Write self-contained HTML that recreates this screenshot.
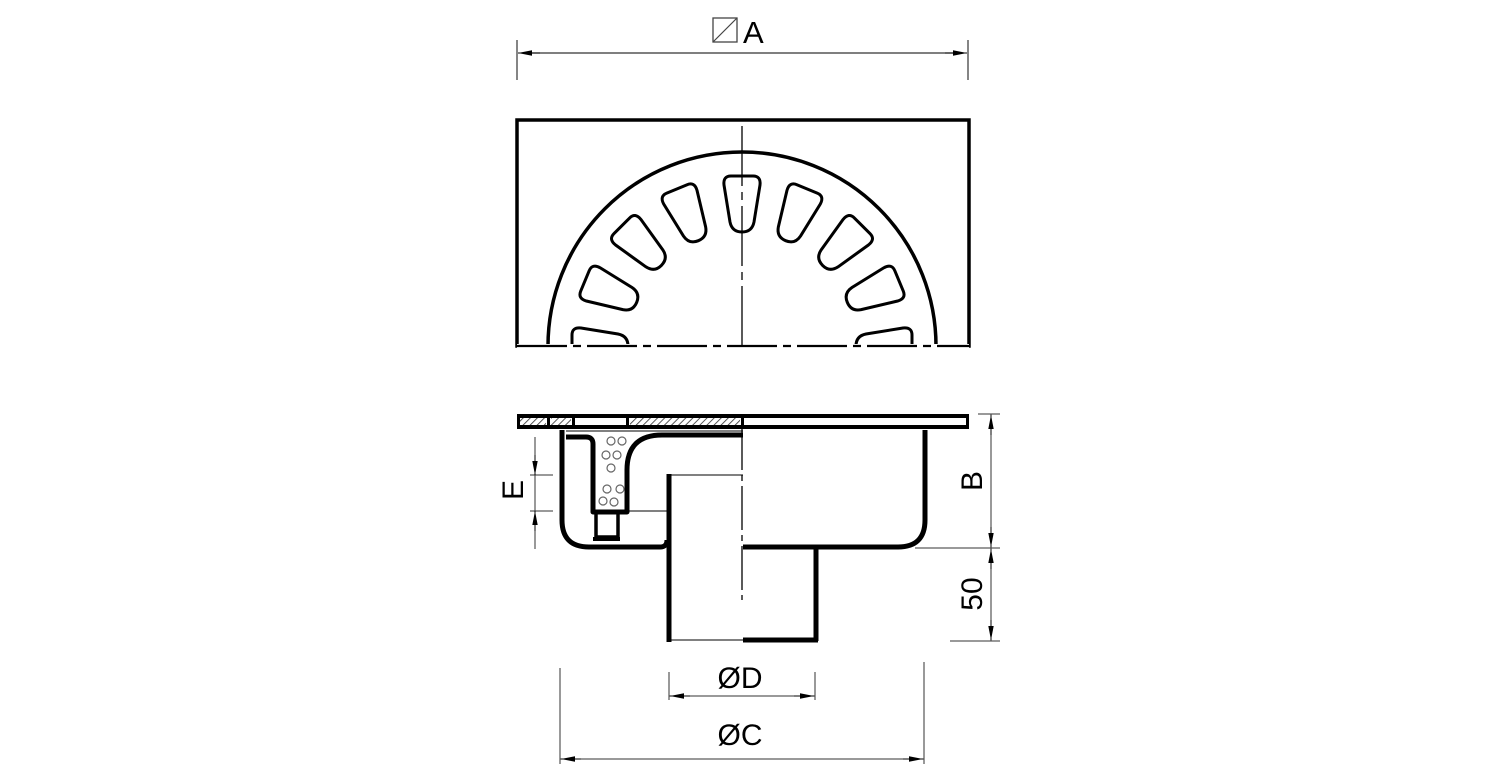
<!DOCTYPE html>
<html><head><meta charset="utf-8"><style>html,body{margin:0;padding:0;background:#fff}svg{display:block}</style></head>
<body>
<svg width="1500" height="781" viewBox="0 0 1500 781" xmlns="http://www.w3.org/2000/svg" font-family="Liberation Sans, sans-serif">
<defs>
<marker id="ar" viewBox="0 0 14 6" refX="14" refY="3" markerWidth="14" markerHeight="6" orient="auto" markerUnits="userSpaceOnUse"><path d="M0,0.3 L14,3 L0,5.7 Z" fill="#000"/></marker>
<pattern id="hat" width="5" height="5" patternUnits="userSpaceOnUse" patternTransform="rotate(45)"><line x1="0" y1="0" x2="0" y2="5" stroke="#444" stroke-width="1.8"/></pattern>
<clipPath id="top"><rect x="515" y="118" width="456" height="228"/></clipPath>
<path id="slot" d="M-11,-170 L11,-170 Q19,-170 18,-161 L12,-124 Q10,-114 0,-114 Q-10,-114 -12,-124 L-18,-161 Q-19,-170 -11,-170 Z"/>
</defs>

<g stroke="#333" stroke-width="1.2" fill="none">
<line x1="517" y1="40" x2="517" y2="80"/><line x1="968" y1="40" x2="968" y2="80"/>
<line x1="530" y1="53" x2="955" y2="53"/>
</g>
<line x1="540" y1="53" x2="518" y2="53" stroke="#000" stroke-width="1" marker-end="url(#ar)"/>
<line x1="945" y1="53" x2="967" y2="53" stroke="#000" stroke-width="1" marker-end="url(#ar)"/>
<rect x="713" y="18" width="24" height="24" fill="none" stroke="#444" stroke-width="1.3"/>
<line x1="713" y1="42" x2="737" y2="18" stroke="#444" stroke-width="1.2"/>
<text x="743" y="43" font-size="31">A</text>

<g clip-path="url(#top)">
<circle cx="742" cy="346" r="194" fill="none" stroke="#000" stroke-width="3.5"/>
<g transform="translate(742,346)" fill="none" stroke="#000" stroke-width="3">
<use href="#slot"/>
<use href="#slot" transform="rotate(22.5)"/><use href="#slot" transform="rotate(-22.5)"/>
<use href="#slot" transform="rotate(45)"/><use href="#slot" transform="rotate(-45)"/>
<use href="#slot" transform="rotate(67.5)"/><use href="#slot" transform="rotate(-67.5)"/>
<use href="#slot" transform="rotate(90)"/><use href="#slot" transform="rotate(-90)"/>
</g>
</g>
<rect x="517" y="120" width="452" height="226" fill="none" stroke="#000" stroke-width="3.5"/>
<rect x="517" y="344" width="452" height="6" fill="#fff"/>
<line x1="517" y1="346" x2="969" y2="346" stroke="#000" stroke-width="2.2" stroke-dasharray="50,6,8,6"/>
<line x1="742" y1="126" x2="742" y2="346" stroke="#000" stroke-width="1.3" stroke-dasharray="60,6,8,6"/>

<rect x="517" y="414" width="452" height="15" fill="#000"/>
<rect x="520" y="418" width="446" height="7" fill="#fff"/>
<rect x="520" y="418" width="26" height="7" fill="url(#hat)"/>
<rect x="551" y="418" width="20" height="7" fill="url(#hat)"/>
<rect x="630" y="418" width="110" height="7" fill="url(#hat)"/>
<g fill="#000"><rect x="547" y="418" width="3" height="7"/><rect x="572" y="418" width="3" height="7"/><rect x="626" y="418" width="3" height="7"/><rect x="741" y="418" width="3" height="7"/></g>

<g fill="none" stroke="#000" stroke-width="5" stroke-linejoin="round">
<path d="M562,430 L562,520 Q562,547 589,547 L660,547 Q667,547 667,540"/>
<path d="M566,437 L586,437 Q593,437 593,444 L593,512 L627,512 L627,470 Q627,435 662,435 L743,435"/>
<path d="M925,430 L925,520 Q925,547 898,547 L743,547"/>
<line x1="669" y1="474" x2="669" y2="642"/>
<line x1="816" y1="547" x2="816" y2="641"/>
<line x1="743" y1="640" x2="818" y2="640"/>
</g>
<rect x="596" y="512" width="22" height="25" fill="none" stroke="#000" stroke-width="3.5"/>
<line x1="593" y1="539" x2="620" y2="539" stroke="#000" stroke-width="4"/>
<g fill="none" stroke="#666" stroke-width="1.2">
<circle cx="611" cy="441" r="4"/><circle cx="622" cy="441" r="4"/><circle cx="606" cy="455" r="4"/><circle cx="617" cy="455" r="4"/><circle cx="611" cy="468" r="4"/><circle cx="607" cy="489" r="4"/><circle cx="620" cy="489" r="4"/><circle cx="603" cy="501" r="4"/><circle cx="614" cy="502" r="4"/>
</g>
<g stroke="#000" stroke-width="1">
<line x1="566" y1="431" x2="743" y2="431"/>
<line x1="670" y1="475" x2="743" y2="475"/>
<line x1="628" y1="511" x2="668" y2="511"/>
<line x1="670" y1="640" x2="743" y2="640"/>
</g>
<line x1="742" y1="426" x2="742" y2="600" stroke="#000" stroke-width="1.3" stroke-dasharray="44,5,6,5"/>

<g stroke="#333" stroke-width="1">
<line x1="535" y1="437" x2="535" y2="549"/>
<line x1="530" y1="475" x2="553" y2="475"/><line x1="530" y1="511" x2="553" y2="511"/>
</g>
<line x1="535" y1="455" x2="535" y2="475" stroke="#000" marker-end="url(#ar)"/>
<line x1="535" y1="531" x2="535" y2="511" stroke="#000" marker-end="url(#ar)"/>
<text transform="translate(523,490) rotate(-90)" font-size="30" text-anchor="middle">E</text>

<g stroke="#333" stroke-width="1">
<line x1="978" y1="414" x2="1000" y2="414"/>
<line x1="915" y1="548" x2="1000" y2="548"/>
<line x1="950" y1="641" x2="1000" y2="641"/>
<line x1="991" y1="414" x2="991" y2="641"/>
</g>
<line x1="991" y1="435" x2="991" y2="415" stroke="#000" marker-end="url(#ar)"/>
<line x1="991" y1="527" x2="991" y2="547" stroke="#000" marker-end="url(#ar)"/>
<line x1="991" y1="569" x2="991" y2="549" stroke="#000" marker-end="url(#ar)"/>
<line x1="991" y1="620" x2="991" y2="640" stroke="#000" marker-end="url(#ar)"/>
<text transform="translate(982,481) rotate(-90)" font-size="30" text-anchor="middle">B</text>
<text transform="translate(982,594) rotate(-90)" font-size="30" text-anchor="middle">50</text>

<g stroke="#333" stroke-width="1">
<line x1="669" y1="672" x2="669" y2="700"/><line x1="815" y1="672" x2="815" y2="700"/>
<line x1="669" y1="696" x2="815" y2="696"/>
<line x1="560" y1="668" x2="560" y2="764"/><line x1="924" y1="662" x2="924" y2="764"/>
<line x1="560" y1="759" x2="924" y2="759"/>
</g>
<line x1="690" y1="696" x2="670" y2="696" stroke="#000" marker-end="url(#ar)"/>
<line x1="794" y1="696" x2="814" y2="696" stroke="#000" marker-end="url(#ar)"/>
<line x1="581" y1="759" x2="561" y2="759" stroke="#000" marker-end="url(#ar)"/>
<line x1="903" y1="759" x2="923" y2="759" stroke="#000" marker-end="url(#ar)"/>
<text x="740" y="688" font-size="30" text-anchor="middle">ØD</text>
<text x="740" y="745" font-size="30" text-anchor="middle">ØC</text>
</svg>
</body></html>
